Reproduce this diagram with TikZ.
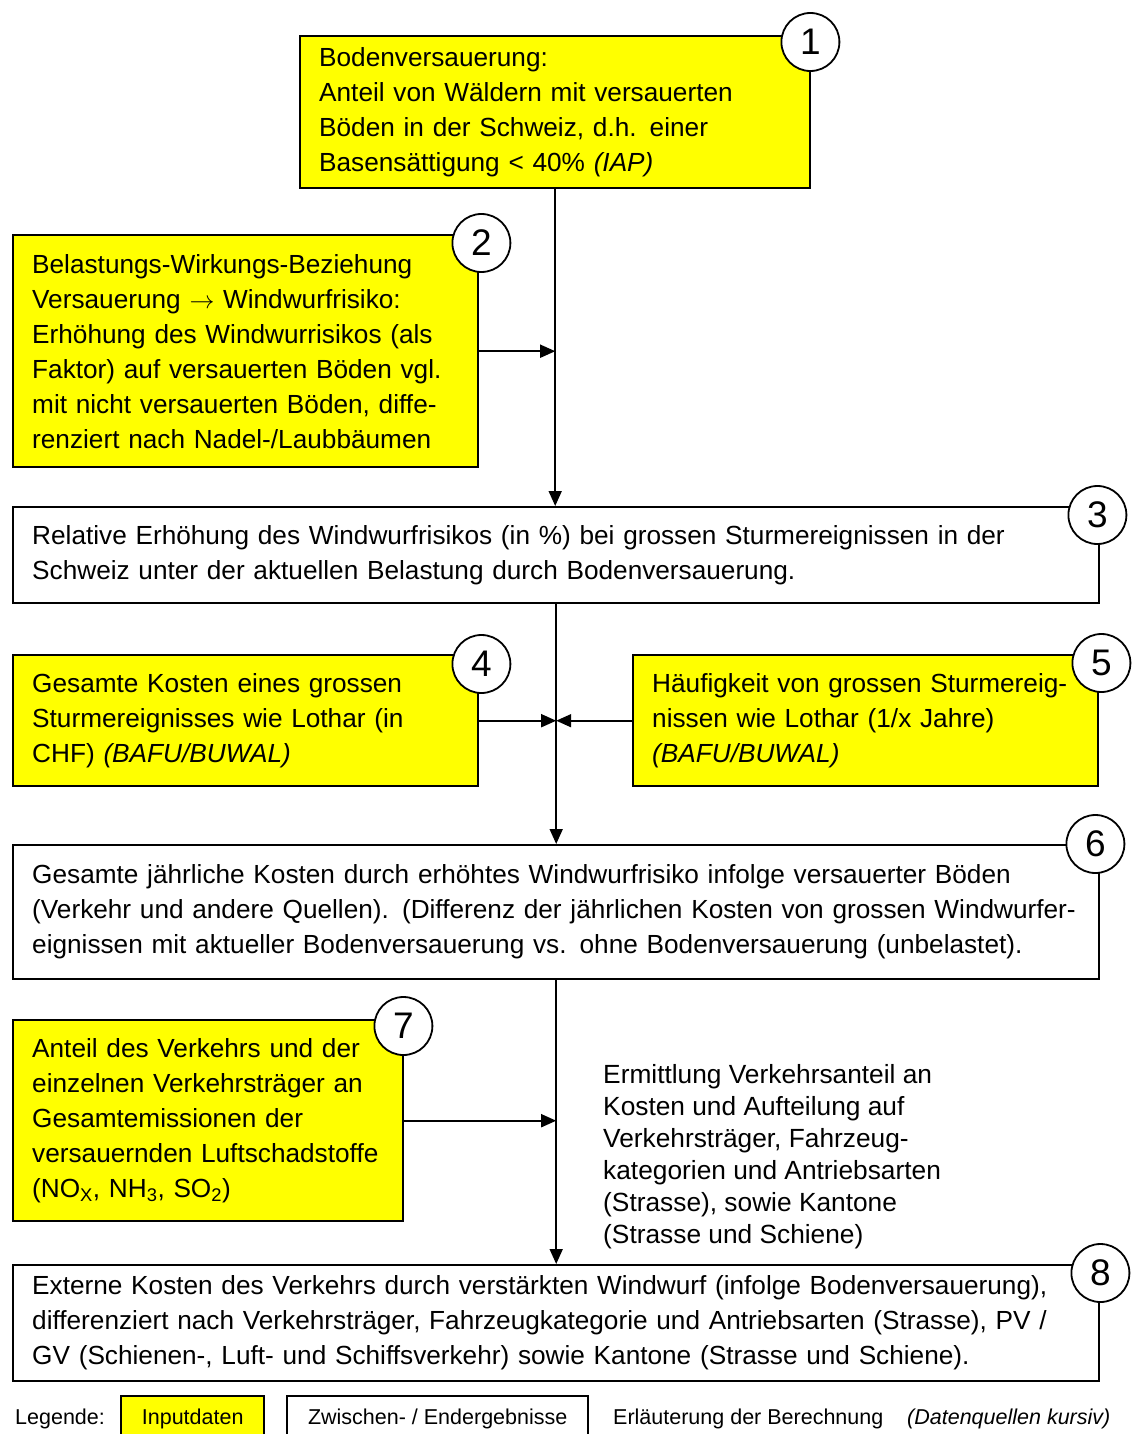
\documentclass[tikz,border=0pt]{standalone}
\usepackage{fontspec}
\setmainfont{Liberation Sans}
\usepackage{tikz}
\usetikzlibrary{arrows.meta}

\definecolor{inputgelb}{RGB}{255,255,0}

\tikzset{
  kasten/.style={draw, line width=2.4pt, anchor=north west, align=left,
                 inner xsep=19pt, inner ysep=2pt,
                 font=\fontsize{26.2}{35}\selectfont},
  input/.style={kasten, fill=inputgelb},
  ergebnis/.style={kasten, fill=white},
  nummer/.style={circle, draw, line width=1.8pt, fill=white, minimum size=58pt,
                 inner sep=0pt, font=\fontsize{37}{37}\selectfont},
  fluss/.style={line width=1.7pt, -{Triangle[length=15pt,width=13pt]}},
  legende/.style={anchor=north west, minimum height=46pt, inner sep=0pt,
                  font=\fontsize{21.5}{24}\selectfont}
}

\begin{document}
\begin{tikzpicture}[x=1pt, y=-1pt]

       \clip (0,0) rectangle (1132,1434);
       \fill [white] (0,0) rectangle (1132,1434);

        \node [input, text width=472pt, minimum height=152pt] (b1) at (299,35)
              {Bodenversauerung:\\
               Anteil von Wäldern mit versauerten\\
               Böden in der Schweiz, d.h. einer\\
               Basensättigung < 40\% \textit{(IAP)}};
        \node [input, text width=427pt, minimum height=232pt] (b2) at (12,234)
              {Belastungs-Wirkungs-Beziehung\\
               Versauerung $\rightarrow$ Windwurfrisiko:\\
               Erhöhung des Windwurrisikos (als\\
               Faktor) auf versauerten Böden vgl.\\
               mit nicht versauerten Böden, diffe-\\
               renziert nach Nadel-/Laubbäumen};
        \node [ergebnis, text width=1048pt, minimum height=96pt] (b3) at (12,506)
              {Relative Erhöhung des Windwurfrisikos (in \%) bei grossen Sturmereignissen in der\\
               Schweiz unter der aktuellen Belastung durch Bodenversauerung.};
        \node [input, text width=427pt, minimum height=131pt] (b4) at (12,654)
              {Gesamte Kosten eines grossen\\
               Sturmereignisses wie Lothar (in\\
               CHF) \textit{(BAFU/BUWAL)}};
        \node [input, text width=427pt, minimum height=131pt] (b5) at (632,654)
              {Häufigkeit von grossen Sturmereig-\\
               nissen wie Lothar (1/x Jahre)\\
               \textit{(BAFU/BUWAL)}};
        \node [ergebnis, text width=1048pt, minimum height=134pt] (b6) at (12,844)
              {Gesamte jährliche Kosten durch erhöhtes Windwurfrisiko infolge versauerter Böden\\
               (Verkehr und andere Quellen). (Differenz der jährlichen Kosten von grossen Windwurfer-\\
               eignissen mit aktueller Bodenversauerung vs. ohne Bodenversauerung (unbelastet).};
        \node [input, text width=352pt, minimum height=201pt] (b7) at (12,1019)
              {Anteil des Verkehrs und der\\
               einzelnen Verkehrsträger an\\
               Gesamtemissionen der\\
               versauernden Luftschadstoffe\\
               (NO\textsubscript{X}, NH\textsubscript{3}, SO\textsubscript{2})};
        \node [ergebnis, text width=1048pt, minimum height=116pt] (b8) at (12,1264)
              {Externe Kosten des Verkehrs durch verstärkten Windwurf (infolge Bodenversauerung),\\
               differenziert nach Verkehrsträger, Fahrzeugkategorie und Antriebsarten (Strasse), PV /\\
               GV (Schienen-, Luft- und Schiffsverkehr) sowie Kantone (Strasse und Schiene).};

        \node [anchor=north west, inner sep=0pt, align=left,
               font=\fontsize{26.3}{32}\selectfont] (erl) at (603,1064)
              {Ermittlung Verkehrsanteil an\\
               Kosten und Aufteilung auf\\
               Verkehrsträger, Fahrzeug-\\
               kategorien und Antriebsarten\\
               (Strasse), sowie Kantone\\
               (Strasse und Schiene)};

        % Nummern
        \node [nummer] (n1) at ([xshift=-1pt, yshift=-7pt]b1.north east) {1};
        \node [nummer] (n2) at ([xshift=2pt, yshift=-9pt]b2.north east)  {2};
        \node [nummer] (n3) at ([xshift=-3pt, yshift=-9pt]b3.north east) {3};
        \node [nummer] (n4) at ([xshift=2pt, yshift=-10pt]b4.north east) {4};
        \node [nummer] (n5) at ([xshift=2pt, yshift=-9pt]b5.north east)  {5};
        \node [nummer] (n6) at ([xshift=-5pt]b6.north east)              {6};
        \node [nummer] (n7) at ([xshift=-1pt, yshift=-7pt]b7.north east) {7};
        \node [nummer] (n8) at ([xshift=0pt, yshift=-9pt]b8.north east)  {8};

        \draw [fluss]  (b1.south)  --  (b1.south |- b3.north);
        \draw [fluss]  (b2.east)   --  (b2.east -| b1.south);
        \draw [fluss]  (b3.south)  --  (b6.north);
        \draw [fluss]  (b4.east)   --  (b4.east -| b3.south);
        \draw [fluss]  (b5.west)   --  (b5.west -| b3.south);
        \draw [fluss]  (b6.south)  --  (b8.north);
        \draw [fluss]  (b7.east)   --  (b7.east -| b6.south);

        % Legende
        \node [legende, minimum height=24pt] (leg) at (15,1407) {Legende:};
        \node [legende, draw, line width=2.4pt, fill=inputgelb, minimum width=143pt]
              (leginput) at (120,1395) {Inputdaten};
        \node [legende, draw, line width=2.4pt, fill=white, minimum width=301pt]
              (legerg) at (286,1395) {Zwischen- / Endergebnisse};
        \node [legende, minimum height=24pt] (legerl) at (613,1407) {Erläuterung der Berechnung};
        \node [legende, minimum height=24pt] (legquel) at (907,1407) {\textit{(Datenquellen kursiv)}};

     \end{tikzpicture}
\end{document}
